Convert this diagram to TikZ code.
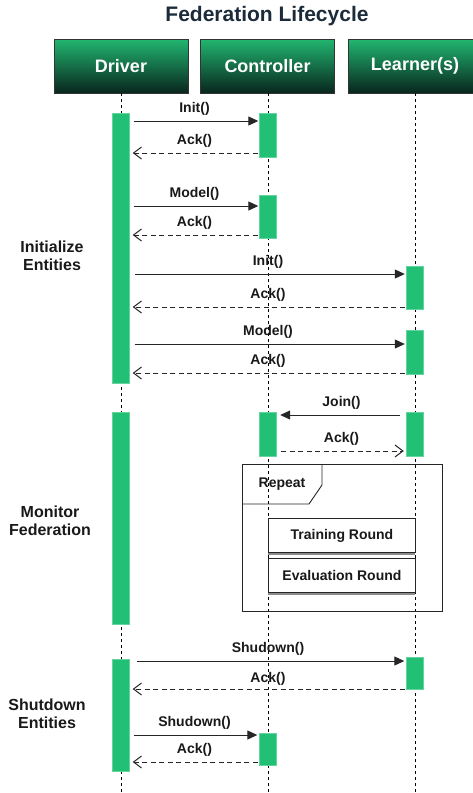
\documentclass[tikz,border=0pt]{standalone}
\usepackage{fontspec}
\setmainfont{Liberation Sans}
\usetikzlibrary{arrows.meta}
\definecolor{barg}{RGB}{34,192,116}
\definecolor{hdtop}{RGB}{34,182,112}
\definecolor{hdbot}{RGB}{8,38,30}
\definecolor{titlec}{RGB}{28,43,58}
\tikzset{
  header/.style={draw=black!80, line width=0.8pt, top color=hdtop, bottom color=hdbot,
    minimum width=134pt, minimum height=54pt, inner sep=0pt,
    text=white, font=\bfseries\fontsize{18}{20}\selectfont},
  life/.style={draw=black, line width=0.9pt, dash pattern=on 3pt off 3pt},
  actbar/.style={fill=barg, draw=barg!70!white, line width=0.4pt, minimum width=17pt, inner sep=0pt, anchor=north},
  msg/.style={draw=black!85, line width=1pt, -{Triangle[length=10pt,width=9pt]}},
  ret/.style={draw=black!85, line width=1pt, dash pattern=on 5pt off 3.5pt, -{Straight Barb[length=8pt,width=12pt,line width=1pt]}},
  lbl/.style={midway, yshift=12pt, font=\bfseries\fontsize{14}{16}\selectfont, inner sep=0pt, text=black!90},
  phase/.style={font=\bfseries\fontsize{16}{18}\selectfont, align=center, text=black!90, inner sep=0pt},
  stepbox/.style={draw=black!85, line width=0.9pt, fill=white, minimum width=147pt, minimum height=34pt,
    inner sep=0pt, font=\bfseries\fontsize{14}{16}\selectfont, text=black!90},
}
\begin{document}
\begin{tikzpicture}[x=1pt,y=-1pt]
\useasboundingbox (0,0) rectangle (472,793);
\fill[white] (0,0) rectangle (472,793);
% title
\node[font=\bfseries\fontsize{21}{24}\selectfont, text=titlec] (title) at (267,16) {Federation Lifecycle};
% headers
\node[header] (drv) at (121,66) {Driver};
\node[header] (ctl) at (267.5,66) {Controller};
\node[header] (lrn) at (415,66) {Learner(s)};
% lifelines
\coordinate (drvend) at (121,793);
\coordinate (ctlend) at (268,793);
\coordinate (lrnend) at (415,793);
\draw[life] (drv.south) -- (drvend);
\draw[life] (ctl.south -| ctlend) -- (ctlend);
\draw[life] (lrn.south) -- (lrnend);
% repeat frame
\node[draw=black!85, line width=0.9pt, minimum width=200pt, minimum height=147pt, inner sep=0pt, anchor=north west] (frame) at (242,464) {};
\coordinate (tabA) at (242,504);
\coordinate (tabB) at (309,504);
\coordinate (tabC) at (322,485);
\coordinate (tabD) at (322,464);
\draw[black!85, line width=0.9pt] (tabA) -- (tabB) -- (tabC) -- (tabD);
\node[font=\bfseries\fontsize{14}{16}\selectfont, text=black!90, inner sep=0pt] (rep) at (282,484) {Repeat};
\fill[black!45] (268,520) rectangle (415,554.5);
\node[stepbox, anchor=north west] (train) at (268,518) {Training Round};
\fill[black!45] (268,560) rectangle (415,594.5);
\node[stepbox, anchor=north west] (eval) at (268,558) {Evaluation Round};
% activation bars
\node[actbar, minimum height=270pt] (d1) at (121,113) {};
\node[actbar, minimum height=212pt] (d2) at (121,412) {};
\node[actbar, minimum height=112pt] (d3) at (121,659) {};
\node[actbar, minimum height=44pt] (c1) at (268,113) {};
\node[actbar, minimum height=43pt] (c2) at (268,195) {};
\node[actbar, minimum height=44pt] (c3) at (268,412) {};
\node[actbar, minimum height=32pt] (c4) at (268,733) {};
\node[actbar, minimum height=43pt] (l1) at (415,266) {};
\node[actbar, minimum height=44pt] (l2) at (415,330) {};
\node[actbar, minimum height=44pt] (l3) at (415,412) {};
\node[actbar, minimum height=32pt] (l4) at (415,657) {};
% messages
\draw[msg, shorten <=4pt, shorten >=1pt] (d1.east |- 0,121) -- node[lbl]{Init()} (c1.west |- 0,121);
\draw[ret, shorten <=1.5pt, shorten >=3pt] (c1.west |- 0,153) -- node[lbl]{Ack()} (d1.east |- 0,153);
\draw[msg, shorten <=4pt, shorten >=1pt] (d1.east |- 0,206) -- node[lbl]{Model()} (c2.west |- 0,206);
\draw[ret, shorten <=1.5pt, shorten >=3pt] (c2.west |- 0,235) -- node[lbl]{Ack()} (d1.east |- 0,235);
\draw[msg, shorten <=5pt, shorten >=1.5pt] (d1.east |- 0,274) -- node[lbl]{Init()} (l1.west |- 0,274);
\draw[ret, shorten <=1.5pt, shorten >=3pt] (l1.west |- 0,307) -- node[lbl]{Ack()} (d1.east |- 0,307);
\draw[msg, shorten <=5pt, shorten >=1.5pt] (d1.east |- 0,344) -- node[lbl]{Model()} (l2.west |- 0,344);
\draw[ret, shorten <=1.5pt, shorten >=3pt] (l2.west |- 0,373) -- node[lbl]{Ack()} (d1.east |- 0,373);
\draw[msg, shorten <=6.5pt, shorten >=3.5pt] (l3.west |- 0,415) -- node[lbl]{Join()} (c3.east |- 0,415);
\draw[ret, shorten <=4.5pt, shorten >=2.5pt] (c3.east |- 0,451) -- node[lbl]{Ack()} (l3.west |- 0,451);
\draw[msg, shorten <=7pt, shorten >=2pt] (d3.east |- 0,661) -- node[lbl]{Shudown()} (l4.west |- 0,661);
\draw[ret, shorten <=1.5pt, shorten >=3pt] (l4.west |- 0,689) -- node[lbl, yshift=-2pt]{Ack()} (d3.east |- 0,689);
\draw[msg, shorten <=4pt, shorten >=2pt] (d3.east |- 0,735) -- node[lbl]{Shudown()} (c4.west |- 0,735);
\draw[ret, shorten <=1.5pt, shorten >=3pt] (c4.west |- 0,762) -- node[lbl]{Ack()} (d3.east |- 0,762);
% phase labels
\node[phase] (ph1) at (52,256) {Initialize\\Entities};
\node[phase] (ph2) at (50,521) {Monitor\\Federation};
\node[phase] (ph3) at (47,714) {Shutdown\\Entities};
\end{tikzpicture}
\end{document}
